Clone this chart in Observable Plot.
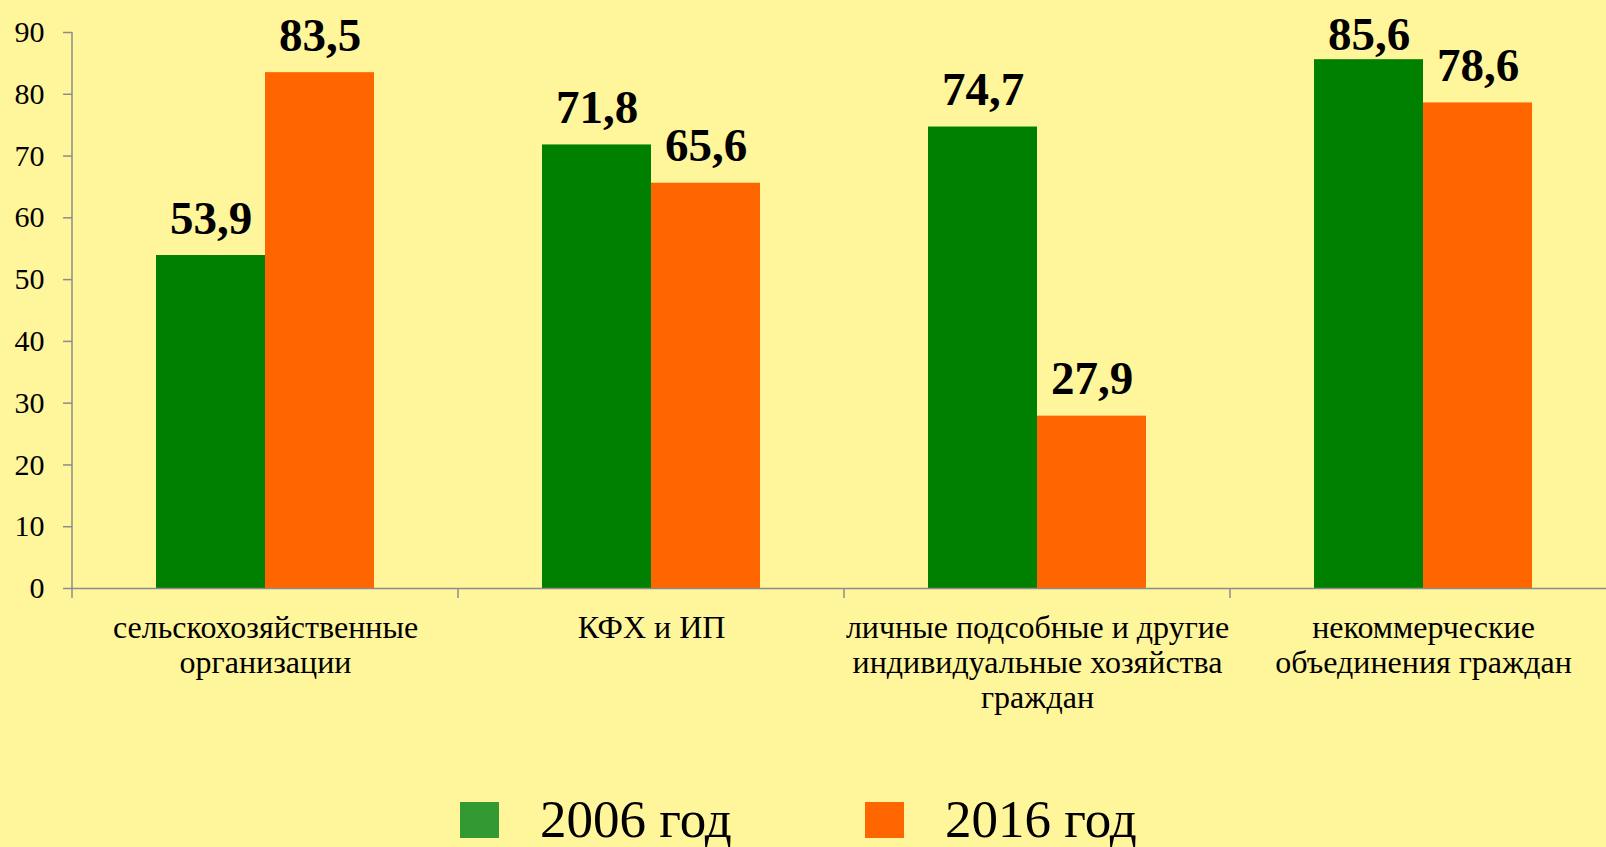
<!DOCTYPE html>
<html>
<head>
<meta charset="utf-8">
<script src="https://cdn.jsdelivr.net/npm/d3@7"></script>
<script src="https://cdn.jsdelivr.net/npm/@observablehq/plot@0.6"></script>
<style>
  html, body { margin: 0; padding: 0; background: #FFF59B; overflow: hidden; }
  #chart svg { display: block; overflow: visible; max-width: none !important; }
  #chart svg text { font-family: "Liberation Serif", "Times New Roman", serif; }
  #legend { position: relative; height: 57px; font-family: "Liberation Serif", "Times New Roman", serif; }
  #legend .sw { position: absolute; top: 12px; width: 39px; height: 36px; }
  #legend .lb { position: absolute; top: 3px; font-size: 53px; line-height: 1; color: #000; white-space: nowrap; }
</style>
</head>
<body>
<div id="chart"></div>
<div id="legend"></div>
<script>
// ---- data ----
const categories = [
  "сельскохозяйственные организации",
  "КФХ и ИП",
  "личные подсобные и другие индивидуальные хозяйства граждан",
  "некоммерческие объединения граждан"
];
const categoryLabels = [
  "сельскохозяйственные\nорганизации",
  "КФХ и ИП",
  "личные подсобные и другие\nиндивидуальные хозяйства\nграждан",
  "некоммерческие\nобъединения граждан"
];
const series = ["2006 год", "2016 год"];
const values2006 = [53.9, 71.8, 74.7, 85.6];
const values2016 = [83.5, 65.6, 27.9, 78.6];
const yTicks = [0, 10, 20, 30, 40, 50, 60, 70, 80, 90];
const seriesColors = ["#008000", "#FF6600"];
const legendColors = ["#339933", "#FF6600"];

const rows = [];
categories.forEach((c, i) => {
  rows.push({category: c, series: series[0], value: values2006[i]});
  rows.push({category: c, series: series[1], value: values2016[i]});
});
const labelOf = new Map(categories.map((c, i) => [c, categoryLabels[i]]));
const fmt = v => v.toFixed(1).replace(".", ",");
const yMax = d3.max(yTicks);
// labels of bars that reach the top of the plot are pushed down (as in the source chart)
const nearTop = d => d.value > yMax - 5;

const axisGray = "#8c8c8c";
const serif = "Liberation Serif, Times New Roman, serif";
const catRows = categories.map(c => ({category: c}));

// category separator tick at the left edge of each facet, below the baseline
function separatorTick(index, scales, values, dims) {
  const g = d3.create("svg:g").attr("stroke", axisGray).attr("stroke-width", 1.5);
  const y0 = scales.y(0);
  const x = dims.marginLeft;
  g.append("line").attr("x1", x).attr("x2", x).attr("y1", y0).attr("y2", y0 + 10);
  return g.node();
}
// vertical y-axis line, in the first facet only
function yAxisLine(index, scales, values, dims) {
  const g = d3.create("svg:g").attr("stroke", axisGray).attr("stroke-width", 1.5);
  const x = dims.marginLeft;
  g.append("line").attr("x1", x).attr("x2", x).attr("y1", scales.y(yMax)).attr("y2", scales.y(0));
  return g.node();
}

const chart = Plot.plot({
  width: 1617,
  height: 790,
  marginLeft: 71,
  marginRight: 0,
  marginTop: 32,
  marginBottom: 202,
  style: {background: "transparent", fontFamily: serif, color: "#000", maxWidth: "none"},
  fx: {domain: categories, padding: 0},
  x: {domain: series, paddingInner: 0, paddingOuter: 0.757, axis: null},
  y: {domain: [0, yMax], axis: null},
  color: {domain: series, range: seriesColors},
  marks: [
    Plot.barY(rows, {fx: "category", x: "series", y: "value", fill: "series"}),
    Plot.ruleY([0], {stroke: axisGray, strokeWidth: 1.5}),
    Plot.ruleY(catRows, {fx: "category", y: () => 0, stroke: axisGray, strokeWidth: 1.5, render: separatorTick}),
    Plot.ruleY(catRows.slice(0, 1), {fx: "category", y: () => 0, stroke: axisGray, strokeWidth: 1.5, render: yAxisLine}),
    Plot.text(rows, {
      filter: d => !nearTop(d),
      fx: "category", x: "series", y: "value",
      text: d => fmt(d.value),
      dy: -22, lineAnchor: "bottom",
      fontSize: 47, fontWeight: "bold", fill: "#000", fontFamily: serif
    }),
    Plot.text(rows, {
      filter: nearTop,
      fx: "category", x: "series", y: "value",
      text: d => fmt(d.value),
      dy: -10, lineAnchor: "bottom",
      fontSize: 47, fontWeight: "bold", fill: "#000", fontFamily: serif
    }),
    Plot.axisY({
      ticks: yTicks, tickSize: 9, tickPadding: 19, fontSize: 30, fontFamily: serif,
      stroke: axisGray, strokeWidth: 1.5, label: null, tickFormat: d => String(d)
    }),
    Plot.axisFx({
      anchor: "bottom", tickSize: 0, tickPadding: 24, fontSize: 32, lineHeight: 1.1,
      fontFamily: serif, tickFormat: c => labelOf.get(c), label: null
    })
  ]
});
document.getElementById("chart").appendChild(chart);

// legend (HTML below the SVG)
const legend = document.getElementById("legend");
const legendPos = [{sw: 460, lb: 540}, {sw: 865, lb: 945}];
series.forEach((s, i) => {
  const sw = document.createElement("div");
  sw.className = "sw";
  sw.style.left = legendPos[i].sw + "px";
  sw.style.background = legendColors[i];
  legend.appendChild(sw);
  const lb = document.createElement("div");
  lb.className = "lb";
  lb.style.left = legendPos[i].lb + "px";
  lb.textContent = s;
  legend.appendChild(lb);
});
</script>
</body>
</html>
